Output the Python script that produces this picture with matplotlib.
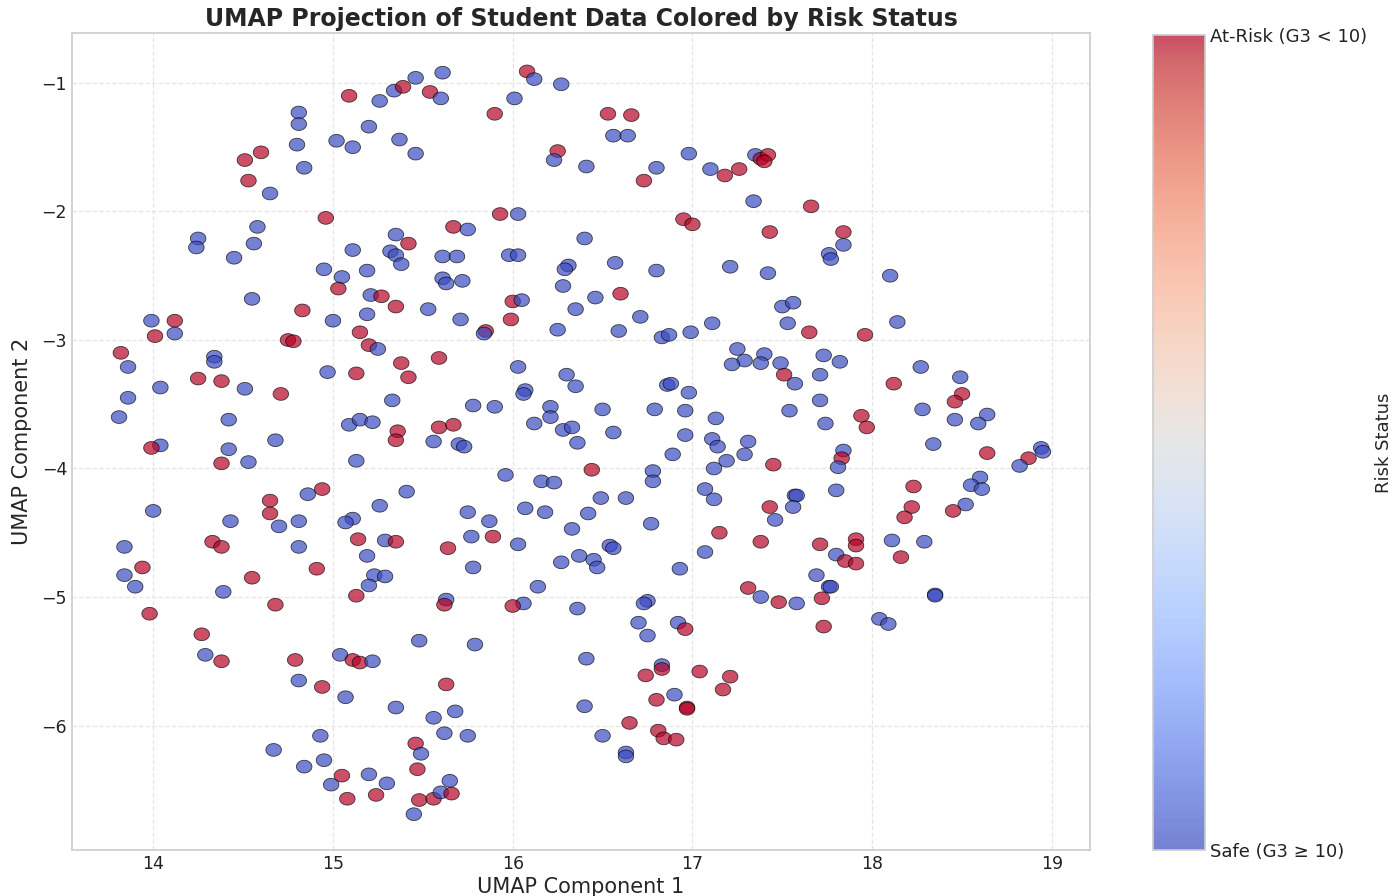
import numpy as np
import matplotlib
matplotlib.use("Agg")
import matplotlib.pyplot as plt

# UMAP coordinates, with risk flag (1 = at-risk)
umap_x = [15.09, 15.26, 15.34, 15.39, 15.46, 15.54, 15.60, 15.61, 15.90, 16.01,
          16.08, 16.12, 16.27, 15.20, 15.02, 15.11, 15.37, 15.46, 16.25, 16.23,
          16.41, 14.96, 15.93, 16.03, 15.67, 15.75, 15.35, 15.42, 15.11, 15.32,
          15.35, 15.38, 15.61, 15.69, 15.98, 16.03, 16.40, 14.95, 15.05, 15.19,
          15.61, 15.63, 15.72, 16.31, 16.29, 16.28, 15.03, 15.21, 15.27, 15.35,
          15.53, 16.00, 16.05, 16.35, 15.00, 15.19, 15.71, 15.99, 14.81, 14.81,
          14.80, 14.60, 14.51, 14.84, 14.53, 14.65, 14.58, 14.25, 14.24, 14.56,
          14.45, 14.55, 14.83, 13.99, 14.12, 16.53, 16.66, 16.56, 16.64, 16.80,
          16.73, 16.98, 17.10, 17.18, 17.26, 17.35, 17.38, 17.42, 17.40, 17.34,
          17.66, 16.95, 17.00, 17.43, 16.57, 16.80, 17.21, 17.42, 16.46, 16.60,
          16.71, 17.50, 17.56, 17.84, 17.84, 17.76, 17.77, 18.10, 18.14, 14.01,
          14.12, 14.75, 14.78, 13.82, 14.34, 14.34, 13.86, 14.97, 14.25, 14.38,
          14.04, 14.51, 14.71, 13.86, 13.81, 14.42, 14.68, 14.04, 13.99, 14.42,
          14.38, 14.53, 14.94, 14.86, 14.65, 14.65, 14.00, 14.43, 14.70, 14.81,
          14.33, 14.38, 13.84, 14.81, 13.94, 13.84, 14.91, 14.55, 13.90, 14.39,
          14.68, 15.15, 15.85, 15.84, 16.25, 15.20, 15.25, 15.38, 15.59, 15.13,
          15.42, 16.03, 16.30, 16.35, 16.07, 16.06, 15.33, 15.78, 15.90, 16.21,
          16.21, 15.09, 15.15, 15.22, 15.36, 15.35, 15.59, 15.67, 16.12, 16.28,
          16.33, 15.56, 15.70, 15.73, 16.36, 15.13, 15.96, 16.16, 16.23, 15.41,
          15.26, 16.07, 16.18, 15.75, 15.11, 15.07, 15.87, 16.33, 15.14, 15.29,
          15.35, 15.77, 15.89, 16.03, 15.64, 15.19, 16.27, 16.37, 15.23, 15.29,
          15.78, 15.20, 16.14, 15.13, 15.63, 15.62, 16.06, 16.00, 16.59, 16.83,
          16.87, 16.99, 17.11, 17.53, 17.65, 17.25, 17.29, 17.22, 17.40, 17.38,
          17.49, 17.51, 17.73, 17.71, 17.57, 17.71, 17.54, 17.74, 16.86, 16.88,
          16.98, 16.50, 16.79, 16.96, 17.13, 16.56, 16.96, 17.11, 17.14, 17.31,
          17.29, 17.19, 16.89, 17.45, 16.44, 16.78, 16.78, 17.12, 17.07, 17.12,
          17.57, 17.58, 17.56, 17.43, 17.46, 16.49, 16.63, 16.42, 16.77, 17.15,
          17.38, 17.71, 16.54, 16.56, 16.45, 16.47, 17.07, 16.93, 17.69, 17.76,
          17.31, 17.38, 17.48, 17.58, 17.72, 16.75, 16.73, 17.96, 17.82, 18.27,
          18.49, 18.12, 18.50, 18.46, 18.28, 18.64, 18.46, 18.59, 17.94, 17.97,
          18.34, 17.84, 17.83, 17.81, 18.64, 18.94, 18.95, 18.87, 18.82, 18.60,
          18.55, 18.61, 18.23, 17.80, 18.22, 18.18, 18.52, 18.45, 18.11, 18.29,
          18.16, 17.91, 17.91, 17.80, 17.85, 17.91, 17.77, 18.35, 18.35, 18.04,
          18.09, 13.98, 14.27, 14.29, 14.38, 14.79, 14.81, 14.94, 14.93, 14.67,
          14.84, 14.95, 14.99, 16.36, 15.48, 15.79, 15.04, 15.11, 15.15, 15.22,
          15.63, 15.07, 15.35, 15.68, 15.56, 16.41, 16.40, 15.62, 15.75, 15.46,
          15.49, 15.47, 15.05, 15.20, 15.30, 15.08, 15.24, 15.48, 15.56, 15.60,
          15.66, 15.65, 15.45, 17.73, 16.70, 16.92, 16.96, 16.75, 16.83, 16.83,
          17.04, 17.21, 17.17, 16.74, 16.90, 16.80, 16.97, 16.97, 16.65, 16.50,
          16.81, 16.84, 16.91, 16.63, 16.63]
umap_y = [-1.10, -1.14, -1.06, -1.03, -0.96, -1.07, -1.12, -0.92, -1.24, -1.12,
          -0.91, -0.97, -1.01, -1.34, -1.45, -1.50, -1.44, -1.55, -1.53, -1.60,
          -1.65, -2.05, -2.02, -2.02, -2.12, -2.14, -2.18, -2.25, -2.30, -2.31,
          -2.34, -2.41, -2.35, -2.35, -2.34, -2.34, -2.21, -2.45, -2.51, -2.46,
          -2.52, -2.56, -2.54, -2.42, -2.45, -2.58, -2.60, -2.65, -2.66, -2.74,
          -2.76, -2.70, -2.69, -2.76, -2.85, -2.80, -2.84, -2.84, -1.23, -1.32,
          -1.48, -1.54, -1.60, -1.66, -1.76, -1.86, -2.12, -2.21, -2.28, -2.25,
          -2.36, -2.68, -2.77, -2.85, -2.85, -1.24, -1.25, -1.41, -1.41, -1.66,
          -1.76, -1.55, -1.67, -1.72, -1.67, -1.56, -1.59, -1.56, -1.61, -1.92,
          -1.96, -2.06, -2.10, -2.16, -2.40, -2.46, -2.43, -2.48, -2.67, -2.64,
          -2.82, -2.74, -2.71, -2.16, -2.26, -2.33, -2.37, -2.50, -2.86, -2.97,
          -2.95, -3.00, -3.01, -3.10, -3.13, -3.17, -3.21, -3.25, -3.30, -3.32,
          -3.37, -3.38, -3.42, -3.45, -3.60, -3.62, -3.78, -3.82, -3.84, -3.85,
          -3.96, -3.95, -4.16, -4.20, -4.25, -4.35, -4.33, -4.41, -4.45, -4.41,
          -4.57, -4.61, -4.61, -4.61, -4.77, -4.83, -4.78, -4.85, -4.92, -4.96,
          -5.06, -2.94, -2.93, -2.95, -2.92, -3.04, -3.07, -3.18, -3.14, -3.26,
          -3.29, -3.21, -3.27, -3.36, -3.39, -3.42, -3.47, -3.51, -3.52, -3.52,
          -3.60, -3.66, -3.62, -3.64, -3.71, -3.78, -3.68, -3.66, -3.65, -3.70,
          -3.68, -3.79, -3.81, -3.83, -3.80, -3.94, -4.05, -4.10, -4.11, -4.18,
          -4.29, -4.31, -4.34, -4.34, -4.39, -4.42, -4.41, -4.47, -4.55, -4.56,
          -4.57, -4.53, -4.53, -4.59, -4.62, -4.68, -4.73, -4.68, -4.83, -4.84,
          -4.77, -4.91, -4.92, -4.99, -5.02, -5.06, -5.05, -5.07, -2.93, -2.98,
          -2.96, -2.94, -2.87, -2.87, -2.94, -3.07, -3.16, -3.19, -3.11, -3.18,
          -3.18, -3.27, -3.12, -3.27, -3.34, -3.47, -3.55, -3.65, -3.35, -3.34,
          -3.41, -3.54, -3.54, -3.55, -3.61, -3.72, -3.74, -3.77, -3.83, -3.79,
          -3.89, -3.94, -3.89, -3.97, -4.01, -4.02, -4.10, -4.00, -4.16, -4.24,
          -4.21, -4.21, -4.30, -4.30, -4.40, -4.23, -4.23, -4.35, -4.43, -4.50,
          -4.57, -4.59, -4.60, -4.62, -4.71, -4.77, -4.65, -4.78, -4.83, -4.92,
          -4.93, -5.00, -5.04, -5.05, -5.01, -5.03, -5.05, -2.96, -3.17, -3.21,
          -3.29, -3.34, -3.42, -3.48, -3.54, -3.58, -3.62, -3.65, -3.59, -3.68,
          -3.81, -3.86, -3.92, -3.99, -3.88, -3.84, -3.87, -3.92, -3.98, -4.07,
          -4.13, -4.16, -4.14, -4.17, -4.30, -4.38, -4.28, -4.33, -4.56, -4.57,
          -4.69, -4.55, -4.60, -4.67, -4.72, -4.74, -4.92, -4.98, -4.99, -5.17,
          -5.21, -5.13, -5.29, -5.45, -5.50, -5.49, -5.65, -5.70, -6.08, -6.19,
          -6.32, -6.27, -6.46, -5.09, -5.34, -5.37, -5.45, -5.49, -5.51, -5.50,
          -5.68, -5.78, -5.86, -5.89, -5.94, -5.48, -5.85, -6.06, -6.08, -6.14,
          -6.22, -6.34, -6.39, -6.38, -6.45, -6.57, -6.54, -6.58, -6.57, -6.52,
          -6.53, -6.43, -6.69, -5.23, -5.20, -5.20, -5.25, -5.30, -5.53, -5.56,
          -5.58, -5.62, -5.72, -5.61, -5.76, -5.80, -5.86, -5.87, -5.98, -6.08,
          -6.04, -6.10, -6.11, -6.21, -6.24]
at_risk = [1, 0, 0, 1, 0, 1, 0, 0, 1, 0,
           1, 0, 0, 0, 0, 0, 0, 0, 1, 0,
           0, 1, 1, 0, 1, 0, 0, 1, 0, 0,
           0, 0, 0, 0, 0, 0, 0, 0, 0, 0,
           0, 0, 0, 0, 0, 0, 1, 0, 1, 1,
           0, 1, 0, 0, 0, 0, 0, 1, 0, 0,
           0, 1, 1, 0, 1, 0, 0, 0, 0, 0,
           0, 0, 1, 0, 1, 1, 1, 0, 0, 0,
           1, 0, 0, 1, 1, 0, 1, 1, 1, 0,
           1, 1, 1, 1, 0, 0, 0, 0, 0, 1,
           0, 0, 0, 1, 0, 0, 0, 0, 0, 1,
           0, 1, 1, 1, 0, 0, 0, 0, 1, 1,
           0, 0, 1, 0, 0, 0, 0, 0, 1, 0,
           1, 0, 1, 0, 1, 1, 0, 0, 0, 0,
           1, 1, 0, 0, 1, 0, 1, 1, 0, 0,
           1, 1, 1, 0, 0, 1, 0, 1, 1, 1,
           1, 0, 0, 0, 0, 0, 0, 0, 0, 0,
           0, 0, 0, 0, 1, 1, 1, 1, 0, 0,
           0, 0, 0, 0, 0, 0, 0, 0, 0, 0,
           0, 0, 0, 0, 0, 0, 0, 0, 1, 0,
           1, 0, 1, 0, 1, 0, 0, 0, 0, 0,
           0, 0, 0, 1, 0, 1, 0, 1, 0, 0,
           0, 0, 0, 0, 1, 0, 0, 0, 0, 0,
           0, 1, 0, 0, 0, 0, 0, 0, 0, 0,
           0, 0, 0, 0, 0, 0, 0, 0, 0, 0,
           0, 0, 0, 1, 1, 0, 0, 0, 0, 0,
           0, 0, 0, 1, 0, 0, 0, 0, 0, 1,
           1, 1, 0, 0, 0, 0, 0, 0, 0, 0,
           1, 0, 1, 0, 1, 0, 0, 1, 0, 0,
           0, 1, 1, 1, 0, 0, 0, 0, 1, 1,
           0, 0, 1, 0, 1, 0, 0, 1, 0, 0,
           0, 0, 1, 0, 1, 1, 0, 1, 0, 0,
           1, 1, 1, 0, 1, 1, 0, 0, 0, 0,
           0, 1, 1, 0, 1, 1, 0, 1, 0, 0,
           0, 0, 0, 0, 0, 0, 0, 1, 1, 0,
           1, 0, 0, 0, 0, 0, 0, 0, 0, 1,
           0, 1, 1, 0, 0, 1, 1, 1, 1, 0,
           1, 0, 0, 1, 0, 0, 1, 0, 0, 1,
           1, 1, 1, 1, 0, 1, 1, 1, 1, 0,
           1, 1, 1, 0, 0]

cbar_ticks = [0, 1]
cbar_ticklabels = ["Safe (G3 \u2265 10)", "At-Risk (G3 < 10)"]

plt.style.use("seaborn-v0_8-whitegrid")
# the reference is stretched sideways, so the wider DejaVu face fits its text better
plt.rcParams["font.family"] = ["DejaVu Sans"]

fig = plt.figure(figsize=(14, 8.96), dpi=100)
ax = fig.add_axes([0.0514, 0.0513, 0.7272, 0.9119])

# markers are ellipses in the stretched reference
t = np.linspace(0, 2 * np.pi, 48)
ellipse = np.column_stack([np.cos(t), 0.82 * np.sin(t)])

sc = ax.scatter(umap_x, umap_y, c=at_risk, cmap="coolwarm", vmin=0, vmax=1,
                alpha=0.7, s=125, marker=ellipse,
                edgecolors="black", linewidths=0.6)

ax.set_xlim(13.548, 19.212)
ax.set_ylim(-6.969, -0.611)
ax.set_xticks([14, 15, 16, 17, 18, 19])
ax.set_yticks([-1, -2, -3, -4, -5, -6])
ax.grid(True, linestyle="--", color="#e6e6e6", linewidth=0.9)
for sp in ax.spines.values():
    sp.set_edgecolor("#cccccc")
    sp.set_linewidth(1.2)
ax.tick_params(labelsize=12.5, colors="#222222")

ax.set_title("UMAP Projection of Student Data Colored by Risk Status",
             fontsize=17, fontweight="bold", pad=5)
ax.set_xlabel("UMAP Component 1", fontsize=15, labelpad=3)
ax.set_ylabel("UMAP Component 2", fontsize=15, labelpad=7)

cax = fig.add_axes([0.8236, 0.0513, 0.0371, 0.9097])
cbar = fig.colorbar(sc, cax=cax, ticks=cbar_ticks)
cbar.set_ticklabels(cbar_ticklabels)
cbar.ax.tick_params(labelsize=13, length=0, colors="#222222")
cbar.outline.set_edgecolor("#cccccc")
cbar.outline.set_linewidth(1.2)
cbar.set_label("Risk Status", fontsize=13, labelpad=6)

fig.savefig("out.png", dpi=100)
